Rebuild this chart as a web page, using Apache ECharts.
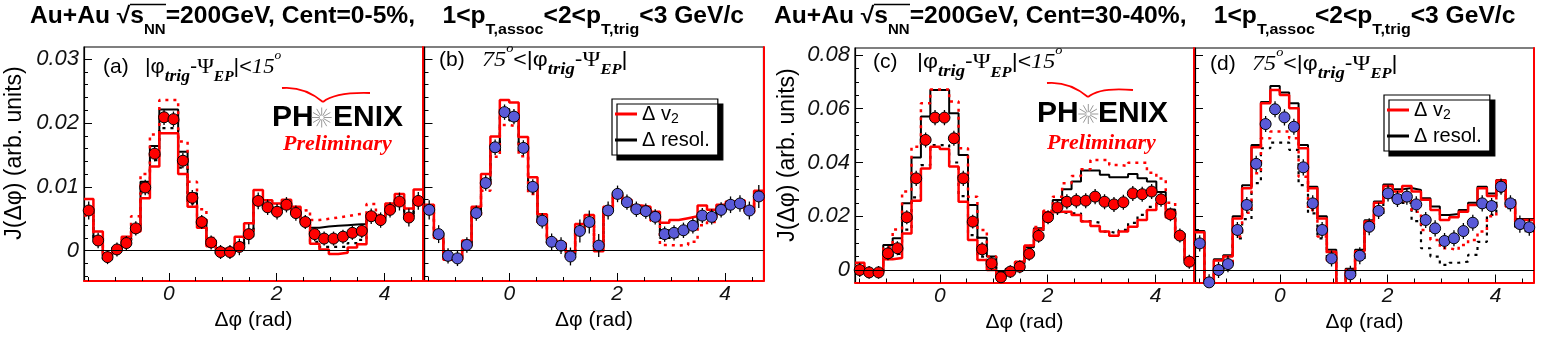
<!DOCTYPE html>
<html>
<head>
<meta charset="utf-8">
<script src="https://cdn.jsdelivr.net/npm/echarts@6/dist/echarts.min.js"></script>
<style>
  html, body { margin: 0; padding: 0; background: #fff; }
  #chart { width: 1541px; height: 345px; }
</style>
</head>
<body>
<div id="chart"></div>
<script>
// 36 bins of 10 deg from -pi/2 to 3pi/2, values in units of 1e-3
const NBINS = 36;
const X_MIN = -Math.PI / 2, X_MAX = 3 * Math.PI / 2;

const xLabels = [0, 2, 4];
const xMinorTicks = [-1.5, -1, -0.5, 0.5, 1, 1.5, 2.5, 3, 3.5, 4.5];
const yLabelsAB = [0, 10, 20, 30];
const yMinorAB = [-4, -2, 2, 4, 6, 8, 12, 14, 16, 18, 22, 24, 26, 28];
const yLabelsCD = [0, 20, 40, 60, 80];
const yMinorCD = [5, 10, 15, 25, 30, 35, 45, 50, 55, 65, 70, 75];

// (a) Cent 0-5%, in-plane
const ptsA = [6.3, 1.6, -1.0, 0.2, 1.2, 3.5, 9.9, 15.2, 20.9, 20.6, 14.1, 8.3, 4.5, 1.3, -0.2, -0.2, 0.6, 2.6, 7.8, 6.8, 6.1, 7.2, 5.9, 4.5, 2.6, 1.9, 1.9, 2.2, 2.8, 3.1, 5.4, 4.8, 6.4, 7.7, 5.2, 7.8];
const errA = [1.4, 1.2, 1.1, 1.1, 1.1, 1.1, 1.2, 1.2, 1.2, 1.2, 1.2, 1.2, 1.1, 1.1, 1.1, 1.1, 1.3, 1.6, 1.3, 1.2, 1.2, 1.2, 1.2, 1.1, 1.1, 1.1, 1.1, 1.1, 1.1, 1.1, 1.2, 1.2, 1.2, 1.4, 1.4, 1.4];
const v2LoA = [8.1, 3.0, -0.4, 0.1, 2.2, 3.0, 8.2, 13.2, 18.4, 18.4, 12.0, 6.9, 3.6, 0.7, 0.3, 0.3, 2.2, 4.3, 9.5, 7.9, 7.4, 8.0, 6.9, 4.5, 1.1, 0.2, -0.5, -0.3, 0.5, 1.0, 5.8, 5.4, 7.4, 8.9, 6.6, 9.6];
const v2HiA = [5.5, 2.0, -1.0, 0.3, 1.7, 5.4, 12.0, 18.2, 23.6, 23.6, 17.1, 10.8, 6.5, 2.0, 0.0, 0.2, 1.2, 3.0, 8.3, 7.2, 6.5, 7.5, 6.2, 6.4, 4.8, 5.0, 5.2, 5.4, 5.7, 5.8, 7.3, 5.6, 7.0, 8.0, 5.6, 8.0];
const resHiA = [6.6, 1.9, -0.7, 0.5, 1.5, 3.9, 10.8, 16.4, 22.1, 22.1, 15.5, 9.0, 4.9, 1.6, 0.1, 0.1, 0.9, 2.9, 8.0, 7.0, 6.3, 7.4, 6.1, 4.8, 3.6, 3.8, 3.9, 4.0, 4.1, 4.2, 5.6, 5.0, 6.6, 7.9, 5.4, 8.0];
const resLoA = [6.0, 1.3, -1.3, -0.1, 0.9, 3.1, 9.0, 14.2, 19.2, 19.2, 13.0, 7.4, 4.1, 1.0, -0.5, -0.5, 0.3, 2.3, 7.6, 6.6, 5.9, 7.0, 5.7, 4.2, 1.4, 0.6, 0.6, 0.6, 1.2, 1.7, 5.2, 4.6, 6.2, 7.5, 5.0, 7.6];

// (b) Cent 0-5%, out-of-plane
const ptsB = [6.4, 2.6, -0.8, -1.2, 0.9, 5.9, 10.6, 16.2, 21.7, 21.0, 16.1, 10.0, 4.7, 1.4, 0.8, -0.9, 3.1, 4.5, 0.8, 6.3, 8.9, 7.6, 6.5, 6.2, 5.3, 2.6, 2.8, 3.2, 3.9, 5.5, 5.3, 6.4, 7.2, 7.4, 6.3, 8.5];
const errB = [1.5, 1.4, 1.2, 1.2, 1.2, 1.2, 1.2, 1.2, 1.2, 1.2, 1.2, 1.2, 1.2, 1.3, 1.3, 1.4, 1.8, 1.8, 1.8, 1.4, 1.3, 1.2, 1.2, 1.2, 1.2, 1.2, 1.2, 1.2, 1.2, 1.2, 1.2, 1.2, 1.3, 1.3, 1.4, 1.8];
const v2LoB = [7.2, 2.0, -1.4, -1.4, 1.6, 6.9, 12.0, 17.9, 23.6, 23.2, 17.8, 11.5, 5.7, 1.7, 1.2, -0.2, 4.2, 5.6, -0.1, 6.9, 8.8, 8.0, 7.1, 6.9, 6.1, 4.4, 4.8, 5.1, 5.4, 7.1, 6.4, 7.2, 7.7, 7.9, 6.2, 9.4];
const v2HiB = [6.0, 2.3, -0.9, -1.2, 0.6, 5.4, 9.4, 14.7, 19.7, 19.4, 14.8, 8.9, 4.3, 1.2, 0.7, -1.0, 2.8, 4.2, 0.6, 6.0, 8.6, 7.4, 6.3, 5.8, 4.7, 0.9, 0.8, 0.9, 1.4, 4.0, 4.5, 5.8, 7.0, 7.2, 6.0, 8.0];
const resHiB = [6.6, 2.8, -0.6, -1.0, 1.1, 6.2, 11.0, 16.7, 22.2, 21.5, 16.5, 10.4, 5.0, 1.6, 1.0, -0.7, 3.3, 4.7, 1.0, 6.5, 9.1, 7.8, 6.7, 6.4, 5.6, 3.2, 3.3, 3.6, 4.2, 5.7, 5.5, 6.6, 7.4, 7.6, 6.5, 8.7];
const resLoB = [6.2, 2.4, -1.0, -1.4, 0.7, 5.6, 10.1, 15.6, 21.1, 20.4, 15.6, 9.5, 4.4, 1.2, 0.6, -1.1, 2.9, 4.3, 0.6, 6.1, 8.7, 7.4, 6.3, 6.0, 5.0, 2.0, 2.2, 2.6, 3.5, 5.2, 5.1, 6.2, 7.0, 7.2, 6.1, 8.3];

// (c) Cent 30-40%, in-plane
const ptsC = [0.0, -0.9, -0.9, 6.2, 8.1, 19.6, 34.1, 48.4, 56.7, 56.7, 49.0, 34.1, 18.0, 7.7, 2.5, -2.7, -0.6, 1.2, 6.0, 12.7, 19.6, 23.3, 25.4, 25.8, 25.8, 27.3, 25.4, 24.4, 25.2, 28.5, 28.2, 29.2, 26.3, 20.7, 12.8, 3.1];
const errC = [2.6, 2.4, 2.4, 2.6, 2.6, 2.6, 2.8, 2.8, 2.8, 2.8, 2.8, 2.8, 2.6, 2.6, 2.4, 2.4, 2.4, 2.4, 2.6, 2.6, 2.6, 2.8, 2.8, 2.8, 2.8, 2.8, 2.8, 2.8, 2.8, 2.8, 2.8, 2.8, 2.8, 2.6, 2.6, 2.6];
const v2LoC = [2.7, -0.5, -0.5, 4.0, 4.5, 13.6, 25.8, 37.8, 45.9, 45.0, 38.5, 25.4, 11.2, 3.7, 0.0, -2.5, -0.5, 3.1, 9.1, 15.1, 21.5, 21.7, 21.7, 20.5, 18.0, 16.4, 14.3, 12.7, 14.3, 16.1, 18.6, 22.3, 25.0, 19.5, 12.0, 4.5];
const v2HiC = [1.5, -0.8, -0.8, 8.5, 15.1, 29.2, 45.9, 62.0, 67.2, 67.2, 62.7, 45.3, 27.3, 14.9, 5.0, -1.5, 0.0, 3.0, 9.0, 16.0, 22.0, 27.3, 32.3, 35.0, 37.5, 40.9, 40.9, 39.1, 38.7, 39.9, 39.9, 36.2, 34.0, 25.0, 14.0, 3.5];
const resHiC = [0.5, -0.6, -0.6, 9.3, 11.8, 24.8, 41.9, 57.1, 67.0, 67.0, 58.3, 42.8, 24.2, 12.0, 5.0, -0.5, 0.5, 2.5, 8.5, 15.5, 21.5, 26.0, 30.0, 32.9, 37.0, 37.0, 35.4, 34.5, 34.5, 35.7, 34.1, 32.9, 29.0, 22.5, 13.5, 3.5];
const resLoC = [0.0, -1.0, -1.0, 5.0, 6.0, 15.0, 27.0, 39.0, 46.5, 46.5, 40.0, 27.5, 13.0, 5.0, 1.0, -2.5, -0.8, 2.0, 8.0, 14.0, 20.0, 21.5, 21.1, 21.1, 18.2, 17.6, 14.3, 13.6, 14.9, 17.5, 20.5, 23.5, 25.5, 20.0, 12.5, 3.0];

// (d) Cent 30-40%, out-of-plane
const ptsD = [9.9, -4.6, 0.0, 2.2, 14.9, 24.2, 39.5, 54.3, 59.8, 56.8, 53.3, 38.2, 24.8, 14.9, 4.3, -9.0, -1.6, 5.3, 16.1, 22.0, 28.5, 26.4, 27.3, 24.4, 18.6, 15.5, 10.8, 11.8, 14.5, 17.6, 24.8, 23.8, 31.0, 24.8, 17.1, 15.9];
const errD = [3.0, 3.0, 3.0, 3.0, 3.0, 3.0, 3.0, 3.0, 3.0, 3.0, 3.0, 3.0, 3.0, 3.0, 3.0, 3.0, 3.2, 3.2, 3.2, 3.0, 3.0, 3.0, 3.0, 3.0, 3.0, 3.0, 3.0, 3.0, 3.0, 3.0, 3.0, 3.0, 3.0, 3.0, 3.2, 3.2];
const v2LoD = [14.0, -9.0, 3.5, 5.0, 19.2, 30.4, 45.7, 62.0, 67.0, 65.1, 60.2, 45.3, 30.4, 19.2, 6.8, -9.0, 0.0, 7.0, 18.0, 25.0, 31.3, 29.2, 31.3, 29.2, 26.1, 22.3, 18.6, 19.6, 21.7, 24.2, 30.4, 27.5, 33.3, 25.5, 18.6, 18.6];
const v2HiD = [9.0, -5.0, -0.5, 1.5, 12.5, 21.3, 36.0, 49.0, 51.5, 51.5, 49.0, 34.7, 22.3, 12.5, 3.5, -9.0, -2.0, 4.5, 15.0, 21.0, 27.5, 25.5, 26.0, 21.7, 14.9, 11.2, 8.1, 7.4, 9.3, 11.2, 14.3, 20.0, 29.5, 23.5, 16.0, 15.0];
const resHiD = [14.5, -8.0, 4.0, 5.5, 20.0, 31.5, 46.5, 62.5, 68.5, 66.0, 62.0, 46.5, 31.0, 20.0, 7.5, -8.0, 0.5, 7.5, 18.5, 25.5, 31.8, 30.0, 30.5, 29.8, 26.7, 23.6, 20.5, 20.8, 22.3, 25.0, 31.0, 28.5, 33.5, 26.0, 19.0, 19.0];
const resLoD = [8.5, -5.5, -1.0, 1.0, 11.8, 18.9, 32.3, 45.3, 47.4, 47.4, 44.7, 31.6, 21.1, 11.8, 3.0, -9.0, -2.5, 4.0, 14.5, 20.5, 27.0, 25.0, 25.0, 18.2, 8.1, 5.0, 1.9, 2.7, 3.1, 5.6, 10.5, 20.5, 29.0, 23.0, 15.5, 14.5];

const binW = (X_MAX - X_MIN) / NBINS;
const centres = Array.from({ length: NBINS }, (_, k) => X_MIN + (k + 0.5) * binW);
const edges = Array.from({ length: NBINS + 1 }, (_, k) => X_MIN + k * binW);

function stepData(vals) {
  const d = vals.map((v, k) => [edges[k], v]);
  d.push([edges[NBINS], vals[NBINS - 1]]);
  return d;
}

const RED = '#ff0000';
const BLUE = '#5a5ad8';
const SANS = 'Liberation Sans';
const SERIF = 'Liberation Serif';

const panels = [
  { id: 'a', grid: { left: 84, top: 47, width: 339, height: 234 }, yr: [-4.74, 31.9], yl: yLabelsAB, ym: yMinorAB, labels: true,
    pts: ptsA, err: errA, fill: RED, v2Lo: v2LoA, v2Hi: v2HiA, resHi: resHiA, resLo: resLoA },
  { id: 'b', grid: { left: 424.5, top: 47, width: 339, height: 234 }, yr: [-4.74, 31.9], yl: yLabelsAB, ym: yMinorAB, labels: false,
    pts: ptsB, err: errB, fill: BLUE, v2Lo: v2LoB, v2Hi: v2HiB, resHi: resHiB, resLo: resLoB },
  { id: 'c', grid: { left: 855, top: 48, width: 339, height: 234.5 }, yr: [-4.65, 82.6], yl: yLabelsCD, ym: yMinorCD, labels: true,
    pts: ptsC, err: errC, fill: RED, v2Lo: v2LoC, v2Hi: v2HiC, resHi: resHiC, resLo: resLoC },
  { id: 'd', grid: { left: 1195, top: 48, width: 339, height: 234.5 }, yr: [-4.65, 82.6], yl: yLabelsCD, ym: yMinorCD, labels: false,
    pts: ptsD, err: errD, fill: BLUE, v2Lo: v2LoD, v2Hi: v2HiD, resHi: resHiD, resLo: resLoD }
];

const grids = [], xAxes = [], yAxes = [], series = [];

panels.forEach((p, i) => {
  grids.push(Object.assign({ show: true, borderColor: '#000', borderWidth: 1.2, backgroundColor: 'transparent' }, p.grid));

  // major x axis: labels, long ticks, red bottom frame
  xAxes.push({
    type: 'value', gridIndex: i, min: X_MIN, max: X_MAX, position: 'bottom',
    name: 'Δφ (rad)', nameLocation: 'middle', nameGap: 25,
    nameTextStyle: { fontFamily: SANS, fontSize: 21, color: '#000' },
    axisLine: { show: true, onZero: false, lineStyle: { color: RED, width: 2 } },
    axisTick: { show: true, inside: true, length: 8, customValues: xLabels, lineStyle: { color: '#000', width: 1 } },
    axisLabel: { show: true, customValues: xLabels, margin: 3, fontFamily: SANS, fontStyle: 'italic', fontSize: 21, color: '#111' },
    splitLine: { show: false }
  });
  // minor x ticks
  xAxes.push({
    type: 'value', gridIndex: i, min: X_MIN, max: X_MAX, position: 'bottom',
    axisLine: { show: false, onZero: false },
    axisTick: { show: true, inside: true, length: 4, customValues: xMinorTicks, lineStyle: { color: '#000', width: 1 } },
    axisLabel: { show: false }, splitLine: { show: false }
  });

  yAxes.push({
    type: 'value', gridIndex: i, min: p.yr[0], max: p.yr[1], position: 'left',
    axisLine: { show: true, onZero: false, lineStyle: { color: '#000', width: 1.2 } },
    axisTick: { show: true, inside: true, length: 8, customValues: p.yl, lineStyle: { color: '#000', width: 1 } },
    axisLabel: { show: p.labels, customValues: p.yl, margin: 5, fontFamily: SANS, fontStyle: 'italic', fontSize: 22, color: '#111',
      formatter: v => (v === 0 ? '0' : (v / 1000).toFixed(2)) },
    splitLine: { show: false }
  });
  yAxes.push({
    type: 'value', gridIndex: i, min: p.yr[0], max: p.yr[1], position: 'left',
    axisLine: { show: false, onZero: false },
    axisTick: { show: true, inside: true, length: 4, customValues: p.ym, lineStyle: { color: '#000', width: 1 } },
    axisLabel: { show: false }, splitLine: { show: false }
  });
  // red right frame
  yAxes.push({
    type: 'value', gridIndex: i, min: p.yr[0], max: p.yr[1], position: 'right',
    axisLine: { show: true, onZero: false, lineStyle: { color: RED, width: 2 } },
    axisTick: { show: false }, axisLabel: { show: false }, splitLine: { show: false }
  });

  const xi = 2 * i, yi = 3 * i;
  const step = (name, vals, color, width, type, z) => ({
    name, type: 'line', step: 'end', xAxisIndex: xi, yAxisIndex: yi,
    data: stepData(vals), symbol: 'none', silent: true, z,
    lineStyle: { color, width, type }
  });
  series.push(step('resol_hi_' + p.id, p.resHi, '#000', 2, 'solid', 2));
  series.push(step('resol_lo_' + p.id, p.resLo, '#000', 2.2, [3, 5], 2));
  series.push(step('v2_lo_' + p.id, p.v2Lo, RED, 2.5, 'solid', 2));
  series.push(step('v2_hi_' + p.id, p.v2Hi, RED, 2.5, [3, 5], 2));

  series.push({
    type: 'custom', xAxisIndex: xi, yAxisIndex: yi, silent: true, z: 3, clip: true,
    data: p.pts.map((v, k) => [centres[k], v, p.err[k]]),
    renderItem(params, api) {
      const x = api.value(0), y = api.value(1), e = api.value(2);
      const a = api.coord([x, y - e]), b = api.coord([x, y + e]);
      return { type: 'line', shape: { x1: a[0], y1: a[1], x2: b[0], y2: b[1] }, style: { stroke: '#000', lineWidth: 1.3 } };
    }
  });
  series.push({
    type: 'scatter', xAxisIndex: xi, yAxisIndex: yi, silent: true, z: 4,
    data: p.pts.map((v, k) => [centres[k], v]),
    symbol: 'circle', symbolSize: 11,
    itemStyle: { color: p.fill, borderColor: '#000', borderWidth: 1, opacity: 1 },
    markLine: { silent: true, symbol: 'none', label: { show: false },
      lineStyle: { color: '#000', width: 1, type: 'solid' }, data: [{ yAxis: 0 }] }
  });
});

const legendLabels = { v2: '{a|Δ v}{s|2}', res: '{a|Δ resol.}' };
function makeLegend(pid, left, top) {
  return {
    orient: 'vertical', left, top, padding: [5, 8, 5, 3], itemGap: 4,
    itemWidth: 22, itemHeight: 3, selectedMode: false,
    backgroundColor: '#fff', borderColor: '#000', borderWidth: 1.2,
    shadowColor: '#000', shadowBlur: 0, shadowOffsetX: 5, shadowOffsetY: 5,
    data: [
      { name: 'v2_lo_' + pid, icon: 'rect', itemStyle: { color: RED } },
      { name: 'resol_hi_' + pid, icon: 'rect', itemStyle: { color: '#000' } }
    ],
    formatter: n => (n.startsWith('v2') ? legendLabels.v2 : legendLabels.res),
    textStyle: {
      rich: {
        a: { fontFamily: SANS, fontSize: 20, lineHeight: 24, color: '#000' },
        s: { fontFamily: SANS, fontSize: 14, lineHeight: 12, verticalAlign: 'bottom', color: '#000' }
      }
    }
  };
}

// title and panel annotation text
const titleRich = {
  m: { fontFamily: SANS, fontWeight: 'bold', fontSize: 23, lineHeight: 40, color: '#000' },
  n: { fontFamily: SANS, fontWeight: 'bold', fontSize: 14, lineHeight: 26, verticalAlign: 'bottom', color: '#000' },
  t: { fontFamily: SANS, fontWeight: 'bold', fontSize: 15, lineHeight: 14, verticalAlign: 'bottom', color: '#000' }
};
const title1 = '{m|Au+Au √s}{n|NN}{m|=200GeV, Cent=0-5%,    1<p}{t|T,assoc}{m|<2<p}{t|T,trig}{m|<3 GeV/c}';
const title2 = '{m|Au+Au √s}{n|NN}{m|=200GeV, Cent=30-40%,    1<p}{t|T,assoc}{m|<2<p}{t|T,trig}{m|<3 GeV/c}';
const TITLE_STRETCH = 1.07;

const capRich = {
  m: { fontFamily: SANS, fontSize: 21, lineHeight: 36, color: '#000' },
  g: { fontFamily: SERIF, fontSize: 22, lineHeight: 36, color: '#000' },
  i: { fontFamily: SERIF, fontStyle: 'italic', fontSize: 22, lineHeight: 36, color: '#000' },
  tr: { fontFamily: SERIF, fontStyle: 'italic', fontWeight: 'bold', fontSize: 17, lineHeight: 8, verticalAlign: 'bottom', color: '#000' },
  ep: { fontFamily: SERIF, fontStyle: 'italic', fontWeight: 'bold', fontSize: 15, lineHeight: 26, verticalAlign: 'bottom', color: '#000' },
  o: { fontFamily: SERIF, fontStyle: 'italic', fontSize: 13, lineHeight: 24, verticalAlign: 'top', color: '#000' }
};
const capIn = '{m||φ}{tr|trig}{m|-}{g|Ψ}{ep|EP}{m||<}{i|15}{o|o}';
const capOut = '{i|75}{o|o}{m|<|φ}{tr|trig}{m|-}{g|Ψ}{ep|EP}{m||}';

function text(x, y, str, style) {
  return { type: 'text', x, y, silent: true, style: Object.assign({ text: str }, style) };
}
function rich(x, yc, str, richStyle, h, sx) {
  return { type: 'text', x, y: yc - h / 2, scaleX: sx || 1, silent: true,
    style: { text: str, rich: richStyle, verticalAlign: 'top', align: 'left' } };
}
function overline(x1, x2, y) {
  return { type: 'line', silent: true, shape: { x1, y1: y, x2, y2: y }, style: { stroke: '#000', lineWidth: 1.6 } };
}

function logo(x0, yc, starX, enixX, arc, prelimX, prelimY) {
  const els = [];
  els.push(text(x0, yc, 'PH', { fontFamily: SANS, fontWeight: 'bold', fontSize: 30, fill: '#000', verticalAlign: 'middle' }));
  els.push(text(enixX, yc, 'ENIX', { fontFamily: SANS, fontWeight: 'bold', fontSize: 30, fill: '#000', verticalAlign: 'middle' }));
  for (let k = 0; k < 12; k++) {
    const a = k * Math.PI / 6;
    els.push({ type: 'line', silent: true,
      shape: { x1: starX + 2 * Math.cos(a), y1: yc + 2 * Math.sin(a), x2: starX + 10 * Math.cos(a), y2: yc + 10 * Math.sin(a) },
      style: { stroke: '#9a9a9a', lineWidth: 1 } });
  }
  els.push({ type: 'bezierCurve', silent: true,
    shape: { x1: arc[0], y1: arc[1], cpx1: arc[0] + 22, cpy1: arc[1] - 2, x2: arc[2], y2: arc[3] },
    style: { stroke: RED, lineWidth: 1.8, fill: null } });
  els.push({ type: 'bezierCurve', silent: true,
    shape: { x1: arc[2], y1: arc[3], cpx1: arc[2] + 12, cpy1: arc[3] - 10, x2: arc[4], y2: arc[5] },
    style: { stroke: RED, lineWidth: 1.8, fill: null } });
  els.push(text(prelimX, prelimY, 'Preliminary', { fontFamily: SERIF, fontStyle: 'italic', fontWeight: 'bold', fontSize: 22, fill: RED, verticalAlign: 'middle' }));
  return els;
}

const yTitle = (x, y) => Object.assign(
  text(x, y, 'J(Δφ) (arb. units)', { fontFamily: SANS, fontSize: 23, fill: '#000', align: 'center', verticalAlign: 'middle' }),
  { rotation: Math.PI / 2 });

const graphics = [
  rich(30, 17, title1, titleRich, 40, TITLE_STRETCH),
  rich(774, 17, title2, titleRich, 40, TITLE_STRETCH),
  overline(130, 166, 4.5),
  overline(874, 910, 4.5),
  yTitle(15, 153),
  yTitle(788, 155),
  text(103, 67, '(a)', { fontFamily: SANS, fontSize: 21, fill: '#000', verticalAlign: 'middle' }),
  text(439, 60, '(b)', { fontFamily: SANS, fontSize: 21, fill: '#000', verticalAlign: 'middle' }),
  text(873, 62.5, '(c)', { fontFamily: SANS, fontSize: 21, fill: '#000', verticalAlign: 'middle' }),
  text(1210, 64, '(d)', { fontFamily: SANS, fontSize: 21, fill: '#000', verticalAlign: 'middle' }),
  rich(145, 67, capIn, capRich, 36, 1.03),
  rich(482, 60, capOut, capRich, 36, 1.1),
  rich(917, 62.5, capIn, capRich, 36, 1.1),
  rich(1252, 64, capOut, capRich, 36, 1.1)
].concat(
  logo(272, 117.5, 321.7, 333, [282, 88, 323, 102, 370, 93], 283, 144),
  logo(1037, 114, 1088.3, 1098, [1047, 83, 1088, 97, 1133, 90], 1047, 143)
);

const chart = echarts.init(document.getElementById('chart'), null, { renderer: 'canvas' });
chart.setOption({
  backgroundColor: '#fff',
  animation: false,
  grid: grids,
  xAxis: xAxes,
  yAxis: yAxes,
  legend: [makeLegend('b', 612, 99), makeLegend('d', 1384, 95)],
  series,
  graphic: graphics
});
</script>
</body>
</html>
